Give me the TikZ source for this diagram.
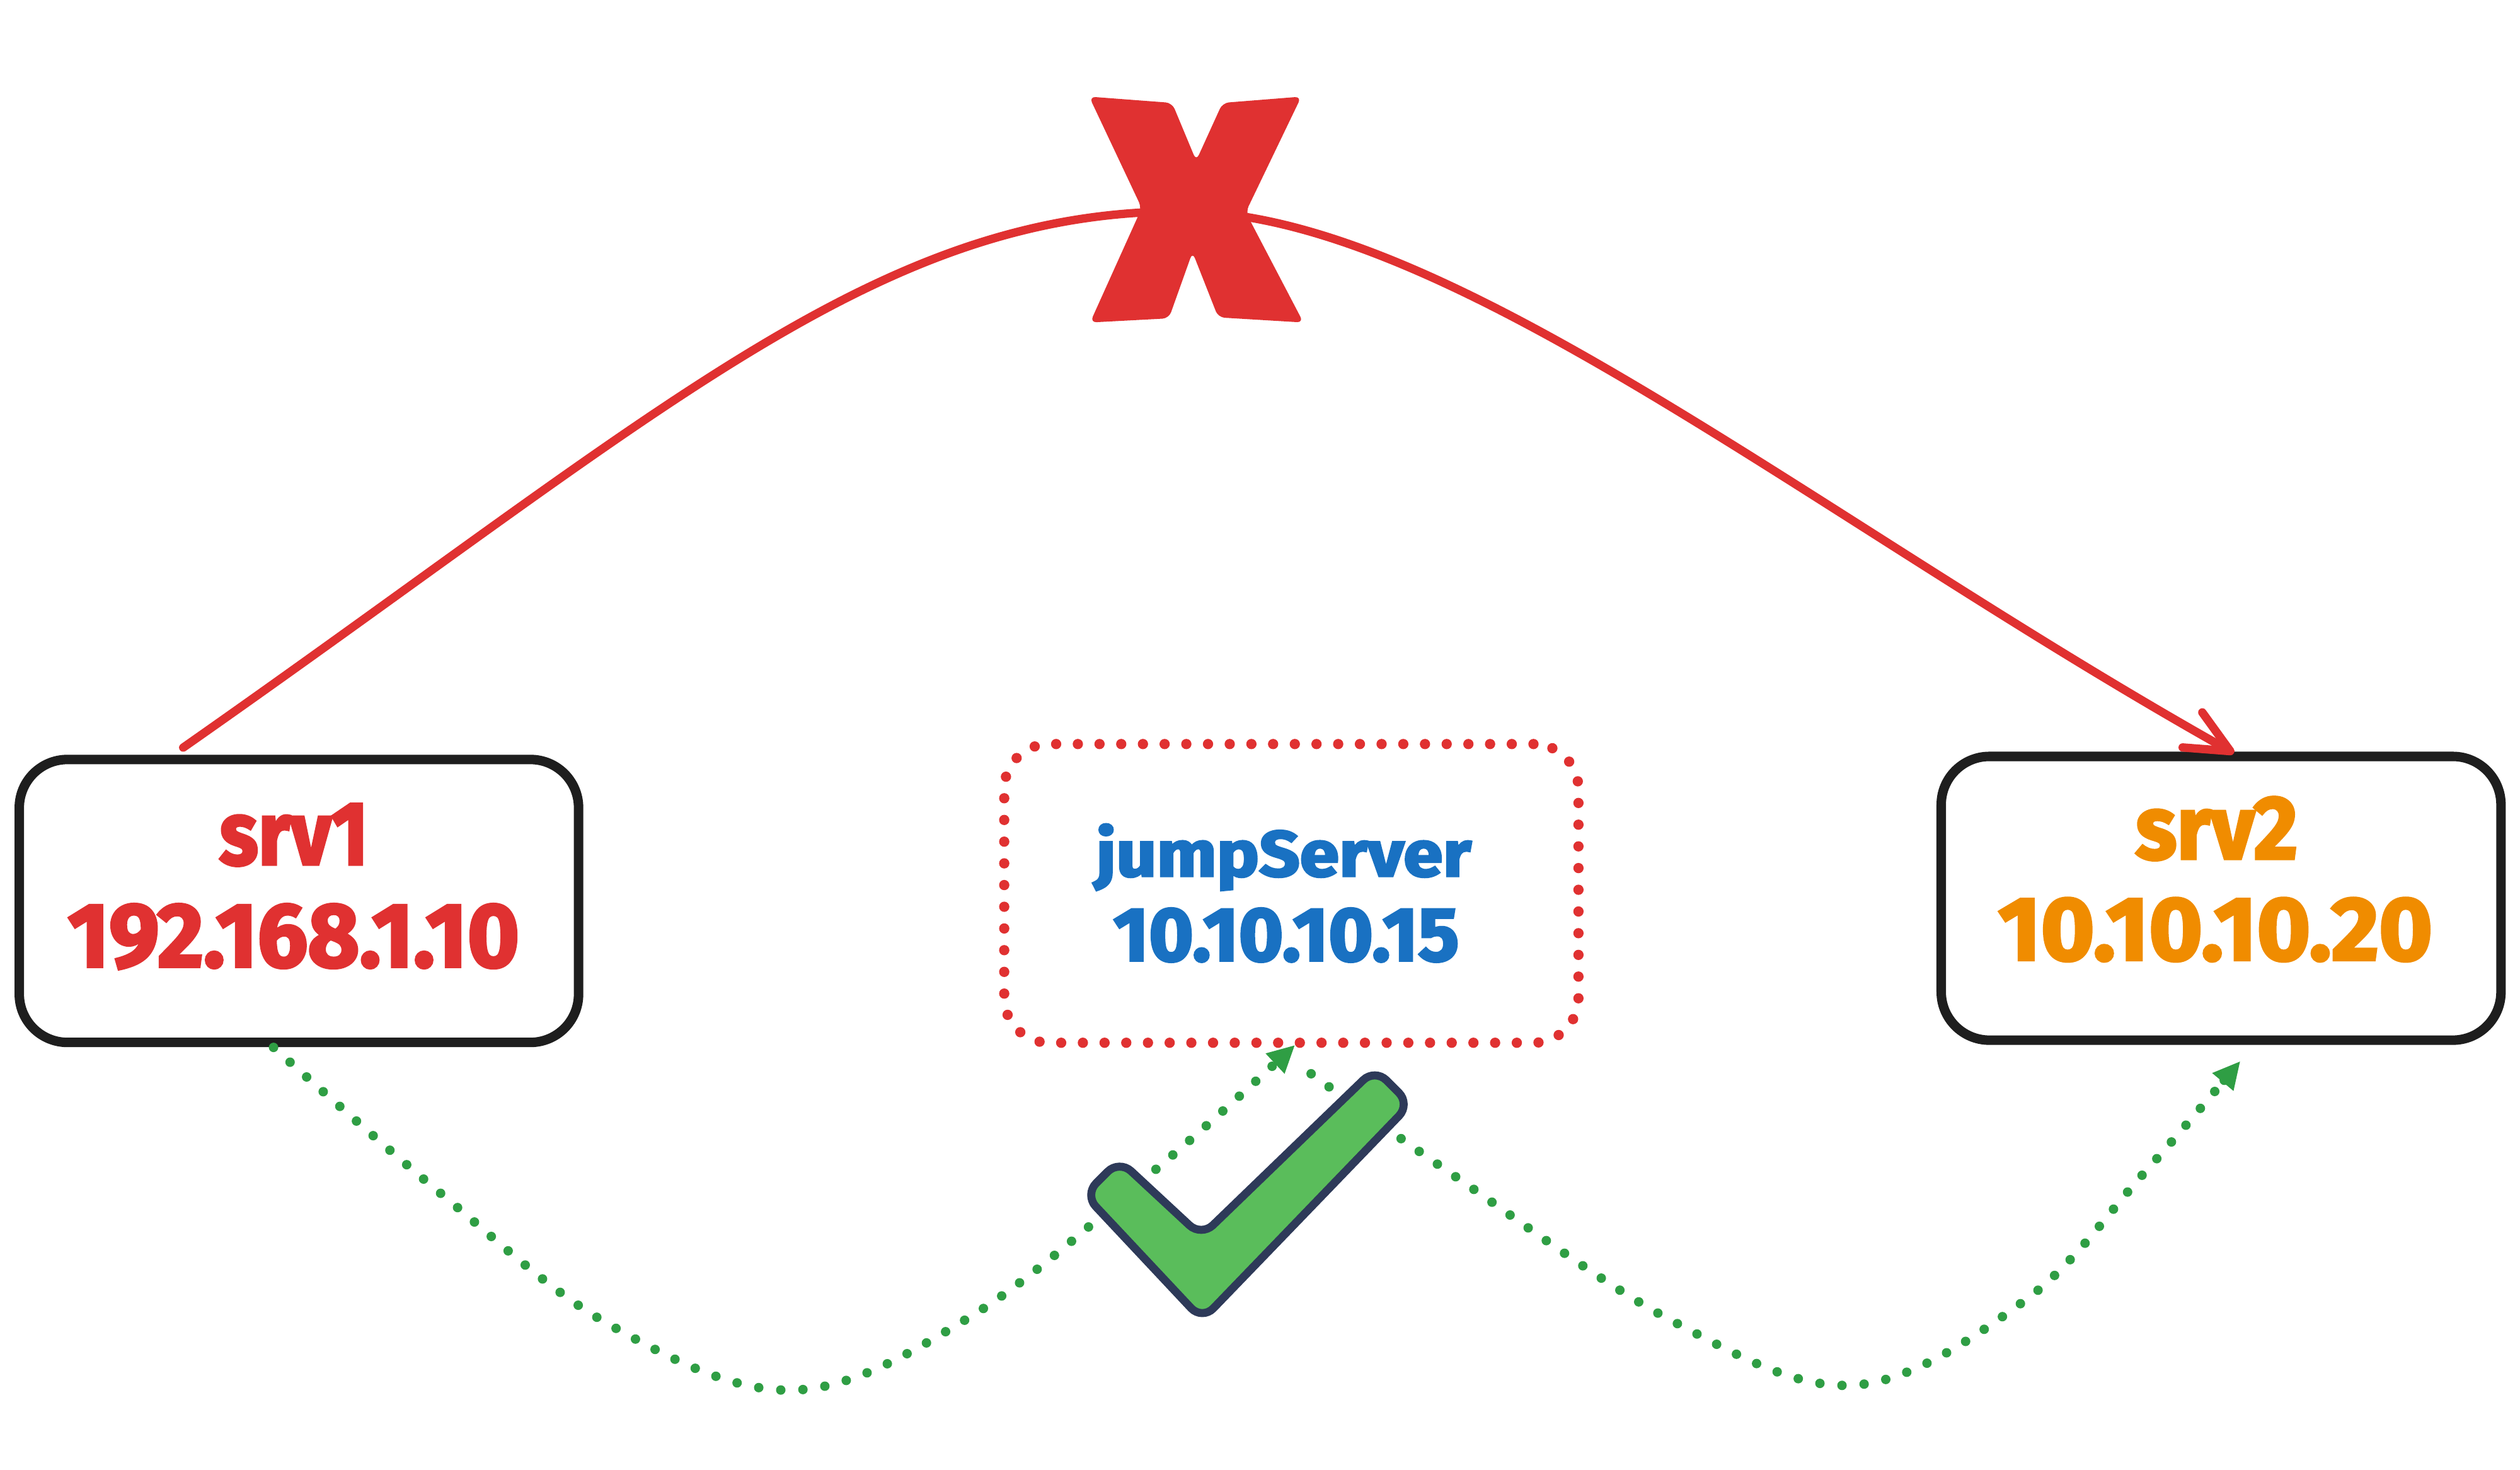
\documentclass[tikz,border=0pt]{standalone}
\usepackage{fontspec}
\usetikzlibrary{arrows.meta}
\newfontfamily\lblfont{Fira Sans}[BoldFeatures={FakeBold=3}]
\definecolor{exred}{HTML}{E03131}
\definecolor{exblue}{HTML}{1971C2}
\definecolor{exorange}{HTML}{F08C00}
\definecolor{exgreen}{HTML}{2F9E44}
\definecolor{exblack}{HTML}{1E1E1E}
\definecolor{chkfill}{HTML}{5ABD5B}
\definecolor{chkline}{HTML}{2E3A59}
\begin{document}
\begin{tikzpicture}[x=1pt,y=-1pt,
  serverbox/.style={draw=exblack, line width=5.9pt, rounded corners=30pt, inner sep=0pt},
  jumpbox/.style={draw=exred, line width=6.4pt, line cap=round, dash pattern=on 0pt off 13.5pt, rounded corners=28pt, inner sep=0pt},
  lbl/.style={inner sep=0pt, anchor=base, font=\lblfont\bfseries},
  redarc/.style={draw=exred, line width=5.2pt, line cap=round, line join=round, -{Straight Barb[length=27pt,width=25pt,round]}},
  greendot/.style={draw=exgreen, line width=5.9pt, line cap=round, dash pattern=on 0pt off 13.8pt, -{Triangle[length=17pt,width=16pt]}},
  xmark/.style={fill=exred, rounded corners=4pt},
  checkmark/.style={draw=chkline, fill=chkfill, line width=5pt, line join=round, rounded corners=10pt}
]
\useasboundingbox (0,0) rectangle (1568,914);

% boxes
\node[serverbox, minimum width=348pt, minimum height=176pt] (srv1) at (186,560.4) {};
\node[serverbox, minimum width=348.3pt, minimum height=176.5pt] (srv2) at (1382,558.75) {};
\node[jumpbox, minimum width=357.3pt, minimum height=185.8pt] (jump) at (803.5,555.7) {};

% labels
\node[lbl, text=exred] (srv1name) at (182.9,537.7) {\resizebox{92.6pt}{37.7pt}{srv1}};
\node[lbl, text=exred] (srv1ip) at (182.7,601.3) {\resizebox{280.8pt}{39pt}{192.168.1.10}};
\node[lbl, text=exorange] (srv2name) at (1379.2,534.2) {\resizebox{100.8pt}{38.5pt}{srv2}};
\node[lbl, text=exorange] (srv2ip) at (1378.4,597.1) {\resizebox{270.1pt}{38.6pt}{10.10.10.20}};
\node[lbl, text=exblue] (jumpname) at (798.7,545) {\resizebox{233.3pt}{32.5pt}{jumpServer}};
\node[lbl, text=exblue] (jumpip) at (800.3,597.6) {\resizebox{215.1pt}{32.7pt}{10.10.10.15}};

% connector end points
\coordinate (r1s) at (114,465);
\coordinate (r1m) at (735,131.5);
\coordinate (r1e) at (1390,468.5);
\coordinate (g1s) at (170.2,651.5);
\coordinate (g1e) at (805.8,650);
\coordinate (g2s) at (815.8,667.9);
\coordinate (g2e) at (1394,660);

% red direct arrow
\draw[redarc] (r1s) .. controls (414,255) and (545,131.5) .. (r1m) .. controls (900,131.5) and (1128.4,321.8) .. (r1e);

% red X
\fill[xmark] (677.7,60.1) -- (729.3,64.0) -- (744.3,100.0) -- (760.7,64.0) -- (809.7,60.1) -- (775.1,132.0) -- (811.0,200.6) -- (758.0,197.4) -- (742.0,156.8) -- (727.3,198.0) -- (678.3,200.6) -- (710.4,129.4) -- cycle;

% green dotted routes
\draw[greendot] plot[smooth, tension=0.6] coordinates {(g1s) (272.3,740.7) (378.6,823.6) (492.5,864.7) (603.8,819) (720.8,726) (g1e)};
\draw[greendot] plot[smooth, tension=0.6] coordinates {(g2s) (903.8,730.6) (1039.9,821.3) (1153.1,861.6) (1259.9,808.9) (1333.9,729.8) (g2e)};

% green check
\draw[checkmark] (696.4,721.6) -- (747.5,769) -- (855.5,664.8) -- (877.5,686.8) -- (748,821) -- (674.9,743.1) -- cycle;
\end{tikzpicture}
\end{document}
